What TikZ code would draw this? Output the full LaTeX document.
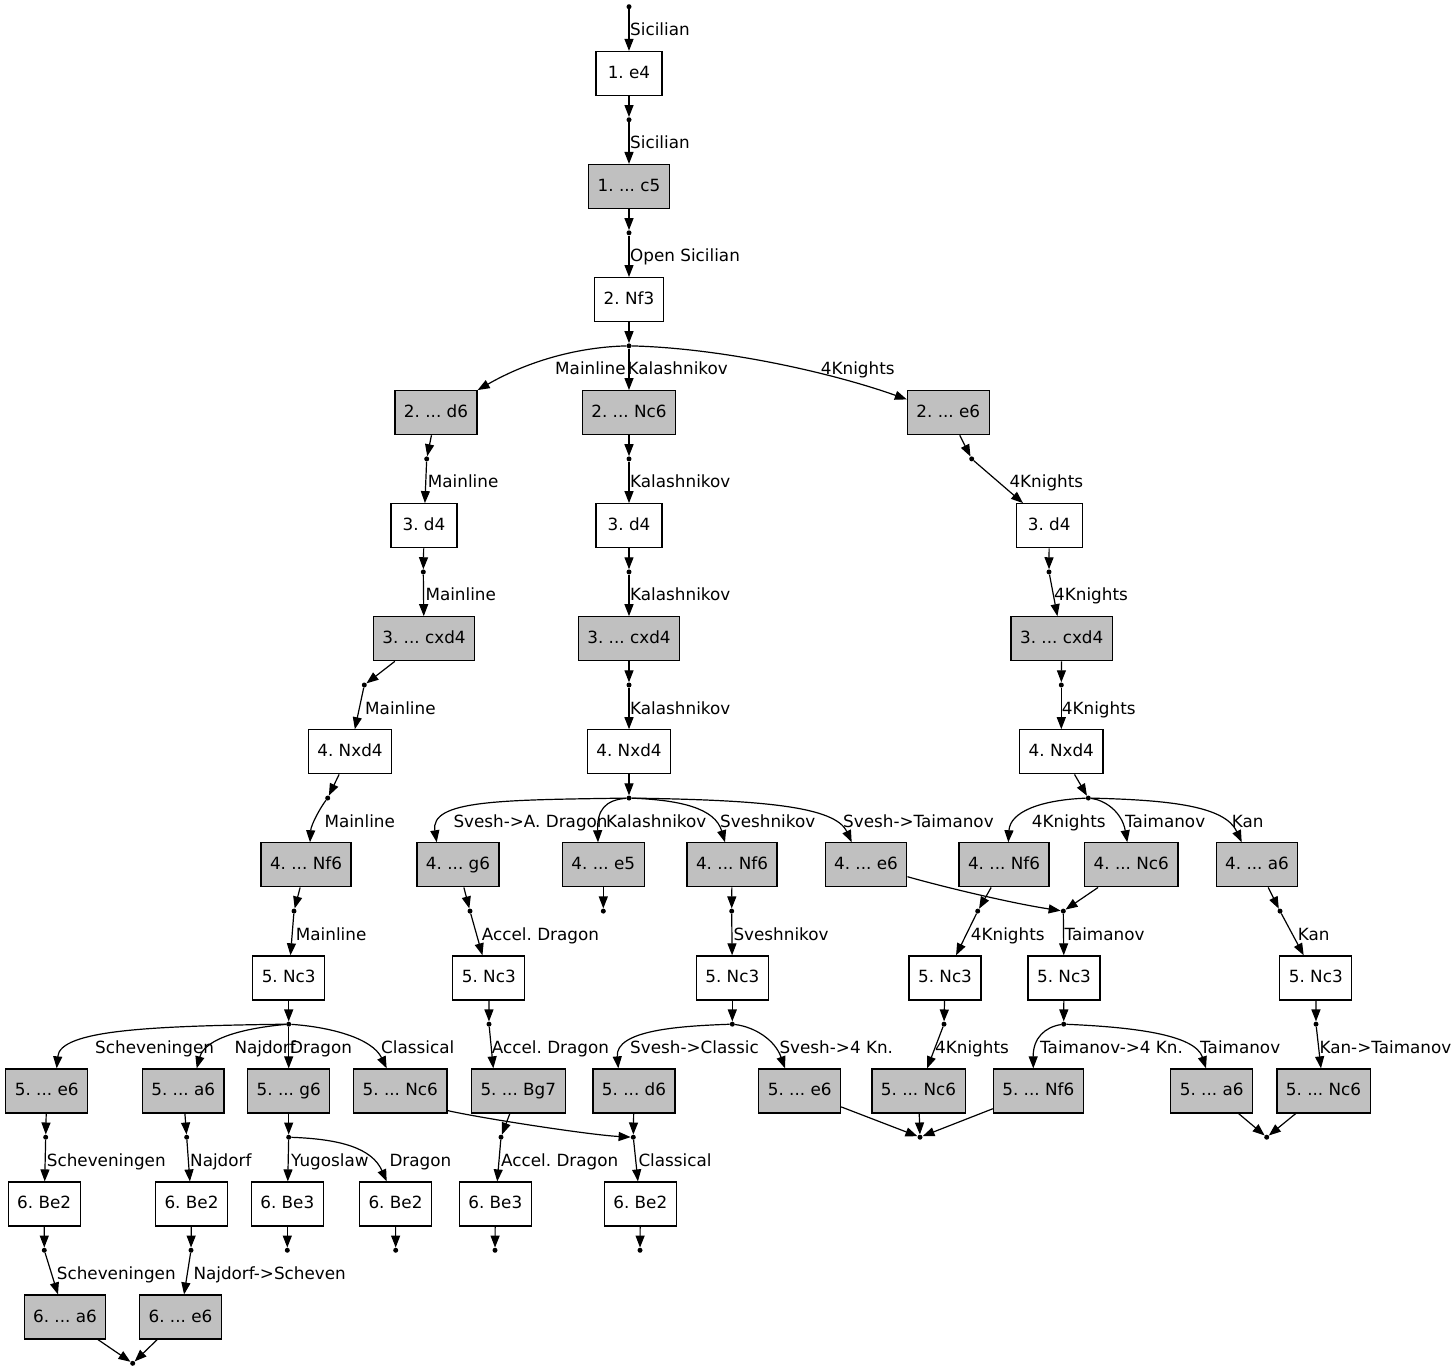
\documentclass[tikz,border=0pt]{standalone}
\usepackage{fontspec}
\setmainfont{DejaVu Sans}
\usetikzlibrary{arrows.meta,calc}
\definecolor{gvgray}{RGB}{192,192,192}
\begin{document}
\frenchspacing
\begin{tikzpicture}[x=1pt,y=-1pt,
  every node/.style={font=\fontsize{16.8}{20}\selectfont\frenchspacing},
  mv/.style={draw=black, line width=1.2pt, rectangle, minimum height=44pt, minimum width=66pt, inner xsep=9pt, inner ysep=0pt, text height=12.3pt, text depth=2.4pt, fill=white},
  bmv/.style={mv, fill=gvgray},
  pt/.style={circle, fill=black, inner sep=0pt, minimum size=5pt},
  lab/.style={anchor=base west, inner sep=0pt},
  arr/.style={line width=1.2pt, -{Triangle[length=12pt,width=9pt]}},
]
\useasboundingbox (0,0) rectangle (1456,1371);
% ---------- box nodes ----------
\node[mv]  (e4)    at (629,73.5) {1. e4};
\node[bmv] (c5)    at (629,186.55) {1. ... c5};
\node[mv]  (nf3)   at (629,299.6) {2. Nf3};
\node[bmv] (d6)    at (436,412.65) {2. ... d6};
\node[bmv] (nc6)   at (629,412.65) {2. ... Nc6};
\node[bmv] (e6)    at (948.3,412.65) {2. ... e6};
% left column
\node[mv]  (ld4)   at (424,525.7) {3. d4};
\node[bmv] (lcxd4) at (424,638.75) {3. ... cxd4};
\node[mv]  (lnxd4) at (350,751.8) {4. Nxd4};
\node[bmv] (lnf6)  at (306,864.85) {4. ... Nf6};
\node[mv]  (lnc3)  at (288.7,977.9) {5. Nc3};
\node[bmv] (se6)   at (46.7,1090.95) {5. ... e6};
\node[bmv] (sa6)   at (183.2,1090.95) {5. ... a6};
\node[bmv] (sg6)   at (288.7,1090.95) {5. ... g6};
\node[bmv] (snc6)  at (400.3,1090.95) {5. ... Nc6};
\node[mv]  (be2a)  at (44.2,1204) {6. Be2};
\node[mv]  (be2b)  at (191.5,1204) {6. Be2};
\node[mv]  (be3a)  at (287.3,1204) {6. Be3};
\node[mv]  (be2c)  at (395.5,1204) {6. Be2};
\node[bmv] (ha6)   at (65,1317.05) {6. ... a6};
\node[bmv] (he6)   at (180.5,1317.05) {6. ... e6};
% middle column
\node[mv]  (md4)   at (629,525.7) {3. d4};
\node[bmv] (mcxd4) at (629,638.75) {3. ... cxd4};
\node[mv]  (mnxd4) at (629,751.8) {4. Nxd4};
\node[bmv] (mg6)   at (458,864.85) {4. ... g6};
\node[bmv] (me5)   at (603.3,864.85) {4. ... e5};
\node[bmv] (mnf6)  at (732,864.85) {4. ... Nf6};
\node[bmv] (me6)   at (866,864.85) {4. ... e6};
\node[mv]  (anc3)  at (488.8,977.9) {5. Nc3};
\node[mv]  (snc3)  at (732.3,977.9) {5. Nc3};
\node[bmv] (bg7)   at (518.3,1090.95) {5. ... Bg7};
\node[bmv] (sd6)   at (634,1090.95) {5. ... d6};
\node[bmv] (se6b)  at (799.7,1090.95) {5. ... e6};
\node[mv]  (abe3)  at (495.3,1204) {6. Be3};
\node[mv]  (cbe2)  at (640.3,1204) {6. Be2};
% right column
\node[mv]  (rd4)   at (1049.2,525.7) {3. d4};
\node[bmv] (rcxd4) at (1061.7,638.75) {3. ... cxd4};
\node[mv]  (rnxd4) at (1061.3,751.8) {4. Nxd4};
\node[bmv] (rnf6)  at (1004,864.85) {4. ... Nf6};
\node[bmv] (rnc6)  at (1131.3,864.85) {4. ... Nc6};
\node[bmv] (ra6)   at (1257,864.85) {4. ... a6};
\node[mv]  (knc3)  at (945,977.9) {5. Nc3};
\node[mv]  (tnc3)  at (1064,977.9) {5. Nc3};
\node[mv]  (kanc3) at (1315.8,977.9) {5. Nc3};
\node[bmv] (knc6)  at (918.5,1090.95) {5. ... Nc6};
\node[bmv] (tnf6)  at (1038.3,1090.95) {5. ... Nf6};
\node[bmv] (ta6)   at (1211.7,1090.95) {5. ... a6};
\node[bmv] (kn6)   at (1323.5,1090.95) {5. ... Nc6};
% ---------- point nodes ----------
\node[pt] (p0) at (629,6.7) {};
\node[pt] (p1) at (629,119.75) {};
\node[pt] (p2) at (629,232.8) {};
\node[pt] (p3) at (629,345.85) {};
\node[pt] (pl4) at (426.7,458.9) {};
\node[pt] (pl5) at (423.3,571.95) {};
\node[pt] (pl6) at (364.3,685) {};
\node[pt] (pl7) at (327.7,798.05) {};
\node[pt] (pl8) at (294,911.1) {};
\node[pt] (pl9) at (288.7,1024.15) {};
\node[pt] (pl10a) at (45.7,1137.2) {};
\node[pt] (pl10b) at (186.7,1137.2) {};
\node[pt] (pl10c) at (288.7,1137.2) {};
\node[pt] (pl11a) at (44.3,1250.25) {};
\node[pt] (pl11b) at (191,1250.25) {};
\node[pt] (pl11c) at (287.3,1250.25) {};
\node[pt] (pl11d) at (395.7,1250.25) {};
\node[pt] (pl12) at (132.7,1363.3) {};
\node[pt] (pm4) at (629,458.9) {};
\node[pt] (pm5) at (629,571.95) {};
\node[pt] (pm6) at (629,685) {};
\node[pt] (pm7) at (629,798.05) {};
\node[pt] (pg8) at (470,911.1) {};
\node[pt] (pe8) at (603.3,911.1) {};
\node[pt] (ps8) at (731.7,911.1) {};
\node[pt] (pa9) at (489,1024.15) {};
\node[pt] (ps9) at (732.3,1024.15) {};
\node[pt] (pa10) at (501,1137.2) {};
\node[pt] (pc10) at (633.3,1137.2) {};
\node[pt] (pa11) at (495,1250.25) {};
\node[pt] (pc11) at (640,1250.25) {};
\node[pt] (pr4) at (971.7,458.9) {};
\node[pt] (pr5) at (1049,571.95) {};
\node[pt] (pr6) at (1061.3,685) {};
\node[pt] (pr7) at (1088.3,798.05) {};
\node[pt] (pk8) at (977.7,911.1) {};
\node[pt] (pt8) at (1063.3,911.1) {};
\node[pt] (pkan8) at (1280,911.1) {};
\node[pt] (pk9) at (944,1024.15) {};
\node[pt] (pt9) at (1063.7,1024.15) {};
\node[pt] (pkan9) at (1316,1024.15) {};
\node[pt] (pe10) at (920,1137.2) {};
\node[pt] (pkt10) at (1266.7,1137.2) {};
% ---------- straight edges ----------
\foreach \a/\b in {p0/e4,e4/p1,p1/c5,c5/p2,p2/nf3,nf3/p3,p3/nc6,
  d6/pl4,pl4/ld4,ld4/pl5,pl5/lcxd4,lcxd4/pl6,pl6/lnxd4,lnxd4/pl7,lnf6/pl8,pl8/lnc3,lnc3/pl9,pl9/sg6,
  se6/pl10a,pl10a/be2a,sa6/pl10b,pl10b/be2b,sg6/pl10c,pl10c/be3a,
  be2a/pl11a,pl11a/ha6,be2b/pl11b,pl11b/he6,be3a/pl11c,be2c/pl11d,ha6/pl12,he6/pl12,
  nc6/pm4,pm4/md4,md4/pm5,pm5/mcxd4,mcxd4/pm6,pm6/mnxd4,mnxd4/pm7,
  mg6/pg8,pg8/anc3,me5/pe8,mnf6/ps8,ps8/snc3,anc3/pa9,snc3/ps9,
  bg7/pa10,pa10/abe3,sd6/pc10,pc10/cbe2,abe3/pa11,cbe2/pc11,se6b/pe10,
  e6/pr4,pr4/rd4,rd4/pr5,pr5/rcxd4,rcxd4/pr6,pr6/rnxd4,rnxd4/pr7,
  rnf6/pk8,pk8/knc3,rnc6/pt8,pt8/tnc3,ra6/pkan8,pkan8/kanc3,
  knc3/pk9,pk9/knc6,tnc3/pt9,kanc3/pkan9,pkan9/kn6,
  knc6/pe10,tnf6/pe10,ta6/pkt10,kn6/pkt10}
  \draw[arr] (\a) -- (\b);
% ---------- curved edges ----------
\draw[arr] (p3) .. controls (580,347) and (530,360) .. (d6.north east);
\draw[arr] (p3) .. controls (720,348) and (830,372) .. ($(e6.north west)+(0,9.35)$);
\draw[arr] (pl7) .. controls (320,808) and (311,825) .. ($(lnf6.north)+(4,0)$);
\draw[arr] (pl9) .. controls (150,1026) and (60,1030) .. ($(se6.north)+(10,0)$);
\draw[arr] (pl9) .. controls (245,1028) and (205,1038) .. ($(sa6.north)+(13.5,0)$);
\draw[arr] (pl9) .. controls (330,1027) and (372,1038) .. ($(snc6.north)+(-13.6,0)$);
\draw[arr] (pl10c) .. controls (340,1139) and (372,1148) .. ($(be2c.north)+(-8.8,0)$);
\draw[arr] ($(snc6.south east)+(0,-3)$) .. controls (480,1118) and (590,1135) .. (pc10);
\draw[arr] (pm7) .. controls (500,800) and (430,800) .. ($(mg6.north)+(-21.3,0)$);
\draw[arr] (pm7) .. controls (605,800) and (597,810) .. ($(me5.north)+(-5.3,0)$);
\draw[arr] (pm7) .. controls (680,800) and (715,808) .. ($(mnf6.north)+(-7,0)$);
\draw[arr] (pm7) .. controls (760,800) and (835,806) .. ($(me6.north)+(-14.3,0)$);
\draw[arr] (pa9) -- ($(bg7.north)+(-25,0)$);
\draw[arr] (ps9) .. controls (680,1026) and (615,1030) .. ($(sd6.north)+(-15.7,0)$);
\draw[arr] (ps9) .. controls (755,1027) and (775,1040) .. ($(se6b.north)+(-14.7,0)$);
\draw[arr] (pr7) .. controls (1040,800) and (1010,812) .. ($(rnf6.north)+(4.3,0)$);
\draw[arr] (pr7) .. controls (1105,800) and (1122,812) .. ($(rnc6.north)+(-4,0)$);
\draw[arr] (pr7) .. controls (1170,800) and (1225,806) .. ($(ra6.north)+(-15.3,0)$);
\draw[arr] ($(me6.east)+(0,11.85)$) .. controls (940,886) and (1010,903) .. (pt8);
\draw[arr] (pt9) .. controls (1045,1027) and (1033,1038) .. ($(tnf6.north)+(-5,0)$);
\draw[arr] (pt9) .. controls (1130,1027) and (1195,1034) .. ($(ta6.north)+(-5.7,0)$);
% ---------- edge labels ----------
\node[lab] (l01) at (630,35.7) {Sicilian};
\node[lab] (l02) at (630,148.75) {Sicilian};
\node[lab] (l03) at (630,261.8) {Open Sicilian};
\node[lab] (l04) at (555,374.85) {Mainline};
\node[lab] (l05) at (627.5,374.85) {Kalashnikov};
\node[lab] (l06) at (820.7,374.85) {4Knights};
\node[lab] (l07) at (427.7,487.9) {Mainline};
\node[lab] (l08) at (630,487.9) {Kalashnikov};
\node[lab] (l09) at (1009.3,487.9) {4Knights};
\node[lab] (l10) at (425.3,600.95) {Mainline};
\node[lab] (l11) at (630,600.95) {Kalashnikov};
\node[lab] (l12) at (1054,600.95) {4Knights};
\node[lab] (l13) at (365,714) {Mainline};
\node[lab] (l14) at (630,714) {Kalashnikov};
\node[lab] (l15) at (1061.7,714) {4Knights};
\node[lab] (l16) at (324.3,827.05) {Mainline};
\node[lab] (l17) at (453.3,827.05) {Svesh->A. Dragon};
\node[lab] (l18) at (606,827.05) {Kalashnikov};
\node[lab] (l19) at (720,827.05) {Sveshnikov};
\node[lab] (l20) at (843,827.05) {Svesh->Taimanov};
\node[lab] (l21) at (1031.7,827.05) {4Knights};
\node[lab] (l22) at (1125,827.05) {Taimanov};
\node[lab] (l23) at (1231.7,827.05) {Kan};
\node[lab] (l24) at (295.7,940.1) {Mainline};
\node[lab] (l25) at (481.7,940.1) {Accel. Dragon};
\node[lab] (l26) at (733.3,940.1) {Sveshnikov};
\node[lab] (l27) at (970.7,940.1) {4Knights};
\node[lab] (l28) at (1064.3,940.1) {Taimanov};
\node[lab] (l29) at (1297.7,940.1) {Kan};
\node[lab] (l30) at (95,1053.15) {Scheveningen};
\node[lab] (l31) at (234.3,1053.15) {Najdorf};
\node[lab] (l32) at (290,1053.15) {Dragon};
\node[lab] (l33) at (381,1053.15) {Classical};
\node[lab] (l34) at (491.7,1053.15) {Accel. Dragon};
\node[lab] (l35) at (630,1053.15) {Svesh->Classic};
\node[lab] (l36) at (779.3,1053.15) {Svesh->4 Kn.};
\node[lab] (l37) at (935,1053.15) {4Knights};
\node[lab] (l38) at (1040,1053.15) {Taimanov->4 Kn.};
\node[lab] (l39) at (1200,1053.15) {Taimanov};
\node[lab] (l40) at (1319.3,1053.15) {Kan->Taimanov};
\node[lab] (l41) at (46.7,1166.2) {Scheveningen};
\node[lab] (l42) at (190,1166.2) {Najdorf};
\node[lab] (l43) at (291,1166.2) {Yugoslaw};
\node[lab] (l44) at (389.3,1166.2) {Dragon};
\node[lab] (l45) at (501,1166.2) {Accel. Dragon};
\node[lab] (l46) at (638.3,1166.2) {Classical};
\node[lab] (l47) at (56.7,1279.25) {Scheveningen};
\node[lab] (l48) at (193.3,1279.25) {Najdorf->Scheven};
\end{tikzpicture}
\end{document}
